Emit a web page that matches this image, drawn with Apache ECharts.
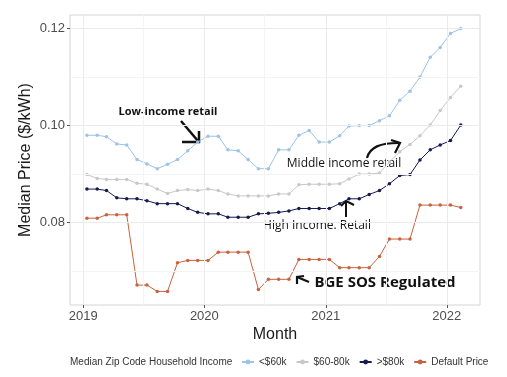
<!DOCTYPE html>
<html>
<head>
<meta charset="utf-8">
<script src="https://cdn.jsdelivr.net/npm/echarts@6/dist/echarts.min.js"></script>
<style>
    html, body { margin: 0; padding: 0; background: #fff; }
    #chart { width: 507px; height: 377px; }
</style>
</head>
<body>
<div id="chart"></div>
<script>
// monthly observations, Jan 2019 .. Feb 2022
var months = ['2019-01','2019-02','2019-03','2019-04','2019-05','2019-06','2019-07','2019-08','2019-09','2019-10','2019-11','2019-12',
    '2020-01','2020-02','2020-03','2020-04','2020-05','2020-06','2020-07','2020-08','2020-09','2020-10','2020-11','2020-12',
    '2021-01','2021-02','2021-03','2021-04','2021-05','2021-06','2021-07','2021-08','2021-09','2021-10','2021-11','2021-12',
    '2022-01','2022-02'];
var lowIncome = [0.098,0.098,0.0977,0.0962,0.096,0.093,0.0921,0.0911,0.092,0.093,0.0948,0.0966,
    0.0978,0.0978,0.095,0.0948,0.093,0.0911,0.0911,0.095,0.095,0.098,0.099,0.0966,
    0.0966,0.0979,0.0999,0.1,0.1,0.101,0.102,0.1052,0.1071,0.11,0.1141,0.1161,
    0.119,0.12];
var midIncome = [0.0899,0.0891,0.0889,0.0889,0.0889,0.0881,0.0879,0.0869,0.086,0.0866,0.0868,0.0866,
    0.0869,0.0866,0.0859,0.0855,0.0855,0.0855,0.0855,0.0859,0.0859,0.0878,0.0879,0.0879,
    0.0879,0.088,0.089,0.09,0.09,0.0902,0.0925,0.0946,0.0961,0.0979,0.1001,0.1031,
    0.1058,0.1081];
var highIncome = [0.0869,0.0869,0.0866,0.0851,0.0849,0.0849,0.0845,0.0839,0.0839,0.0839,0.0829,0.0821,
    0.0818,0.0818,0.0811,0.0811,0.0811,0.0818,0.0819,0.0821,0.0824,0.0829,0.0829,0.0829,
    0.0829,0.0839,0.0849,0.0849,0.0858,0.0866,0.088,0.0897,0.0899,0.0929,0.095,0.096,
    0.0969,0.1001];
var defaultPrice = [0.0809,0.0809,0.0816,0.0816,0.0816,0.0671,0.0671,0.0658,0.0658,0.0717,0.0722,0.0722,
    0.0722,0.0739,0.0739,0.0739,0.0739,0.0662,0.0683,0.0683,0.0683,0.0724,0.0724,0.0724,
    0.0724,0.0707,0.0707,0.0707,0.0707,0.073,0.0766,0.0766,0.0766,0.0836,0.0836,0.0836,
    0.0836,0.0831];
var seriesNames = ['<$60k', '$60-80k', '>$80k', 'Default Price'];
var seriesColors = ['#9dc3e6', '#c8c8c8', '#161b52', '#c9623f'];
var yTicks = [0.08, 0.10, 0.12];
var yMinor = [0.07, 0.09, 0.11];
var xTickYears = ['2019', '2020', '2021', '2022'];
var xMinor = ['2019-07-01', '2020-07-01', '2021-07-01'];

function ts(s) { return +new Date(s + 'T00:00:00Z'); }
function pairs(vals) {
    return months.map(function (m, i) { return [ts(m + '-12'), vals[i]]; });
}
var yearTs = xTickYears.map(function (y) { return ts(y + '-01-01'); });

// panel grid (ggplot style major + minor lines)
var major = { color: '#ebebeb', width: 1, type: 'solid' };
var minor = { color: '#f4f4f4', width: 1, type: 'solid' };
var gridLines = [];
yTicks.forEach(function (v) { gridLines.push({ yAxis: v, lineStyle: major }); });
yMinor.forEach(function (v) { gridLines.push({ yAxis: v, lineStyle: minor }); });
yearTs.forEach(function (v) { gridLines.push({ xAxis: v, lineStyle: major }); });
xMinor.forEach(function (d) { gridLines.push({ xAxis: ts(d), lineStyle: minor }); });

var chart = echarts.init(document.getElementById('chart'));
var font = 'Liberation Sans, Arial, sans-serif';
var noteFont = 'Open Sans, Noto Sans, sans-serif';

function makeSeries(i, vals) {
    var s = {
        name: seriesNames[i],
        type: 'line',
        data: pairs(vals),
        symbol: 'circle',
        symbolSize: 3.5,
        showSymbol: true,
        color: seriesColors[i],
        lineStyle: { width: 1 },
        itemStyle: { color: seriesColors[i] },
        animation: false
    };
    if (i === 0) {
        s.markLine = {
            silent: true,
            symbol: 'none',
            label: { show: false },
            animation: false,
            data: gridLines
        };
    }
    return s;
}

chart.setOption({
    backgroundColor: '#fff',
    grid: {
        left: 70, right: 27, top: 15, bottom: 72,
        show: true, borderColor: '#d4d4d4', borderWidth: 1
    },
    xAxis: {
        type: 'value',
        min: ts('2018-11-22'),
        max: ts('2022-04-11'),
        name: 'Month',
        nameLocation: 'middle',
        nameGap: 22,
        nameMoveOverlap: false,
        nameTextStyle: { fontSize: 16, color: '#1a1a1a', fontFamily: font },
        axisLine: { show: false },
        splitLine: { show: false },
        axisTick: { show: true, length: 3, lineStyle: { color: '#555' }, customValues: yearTs },
        axisLabel: {
            customValues: yearTs,
            fontSize: 13, color: '#4d4d4d', fontFamily: font, margin: 5,
            formatter: function (v) { return String(new Date(v).getUTCFullYear()); }
        }
    },
    yAxis: {
        type: 'value',
        min: 0.063,
        max: 0.1228,
        name: 'Median Price ($/kWh)',
        nameLocation: 'middle',
        nameGap: 36,
        nameMoveOverlap: false,
        nameTextStyle: { fontSize: 16, color: '#1a1a1a', fontFamily: font },
        axisLine: { show: false },
        splitLine: { show: false },
        axisTick: { show: true, length: 3, lineStyle: { color: '#555' }, customValues: yTicks },
        axisLabel: {
            customValues: yTicks,
            fontSize: 13, color: '#4d4d4d', fontFamily: font, margin: 5,
            formatter: function (v) { return v.toFixed(2); }
        }
    },
    legend: {
        data: seriesNames,
        left: 236,
        top: 352,
        itemWidth: 12,
        itemHeight: 6,
        itemGap: 9,
        textStyle: { fontSize: 10, color: '#333', fontFamily: font }
    },
    graphic: [
        { type: 'text', left: 70, top: 357, style: { text: 'Median Zip Code Household Income', fontSize: 10, fill: '#333', fontFamily: font } },
        // annotations
        { type: 'text', x: 168, y: 112, style: { text: 'Low-income retail', fontSize: 11, fontWeight: 'bold', fill: '#111', fontFamily: noteFont, align: 'center', verticalAlign: 'middle' } },
        { type: 'polyline', shape: { points: [[181, 121], [198, 141]] }, style: { stroke: '#111', lineWidth: 2.5, fill: null } },
        { type: 'polyline', shape: { points: [[182, 142], [199, 142], [199, 131]] }, style: { stroke: '#111', lineWidth: 2.5, fill: null } },
        { type: 'text', x: 344, y: 164, style: { text: 'Middle income retail', fontSize: 12, fill: '#111', fontFamily: noteFont, align: 'center', verticalAlign: 'middle' } },
        { type: 'bezierCurve', shape: { x1: 367, y1: 158, cpx1: 370, cpy1: 147, cpx2: 380, cpy2: 143, x2: 399, y2: 143 }, style: { stroke: '#111', lineWidth: 2.2, fill: null } },
        { type: 'polyline', shape: { points: [[391, 140], [400, 143], [395, 153]] }, style: { stroke: '#111', lineWidth: 2.2, fill: null } },
        { type: 'text', x: 317, y: 226, style: { text: 'High Income. Retail', fontSize: 12, fill: '#111', fontFamily: noteFont, align: 'center', verticalAlign: 'middle' } },
        { type: 'polyline', shape: { points: [[346, 217], [346, 201]] }, style: { stroke: '#111', lineWidth: 2, fill: null } },
        { type: 'polyline', shape: { points: [[341, 206], [346, 201], [354, 205]] }, style: { stroke: '#111', lineWidth: 2, fill: null } },
        { type: 'text', x: 385, y: 283, style: { text: 'BGE SOS Regulated', fontSize: 15, fontWeight: 'bold', fill: '#111', fontFamily: noteFont, align: 'center', verticalAlign: 'middle' } },
        { type: 'polyline', shape: { points: [[297, 284], [297, 277], [304, 276]] }, style: { stroke: '#111', lineWidth: 2.2, fill: null } },
        { type: 'polyline', shape: { points: [[297, 277], [309, 282]] }, style: { stroke: '#111', lineWidth: 2.2, fill: null } }
    ],
    series: [
        makeSeries(0, lowIncome),
        makeSeries(1, midIncome),
        makeSeries(2, highIncome),
        makeSeries(3, defaultPrice)
    ]
});
</script>
</body>
</html>
